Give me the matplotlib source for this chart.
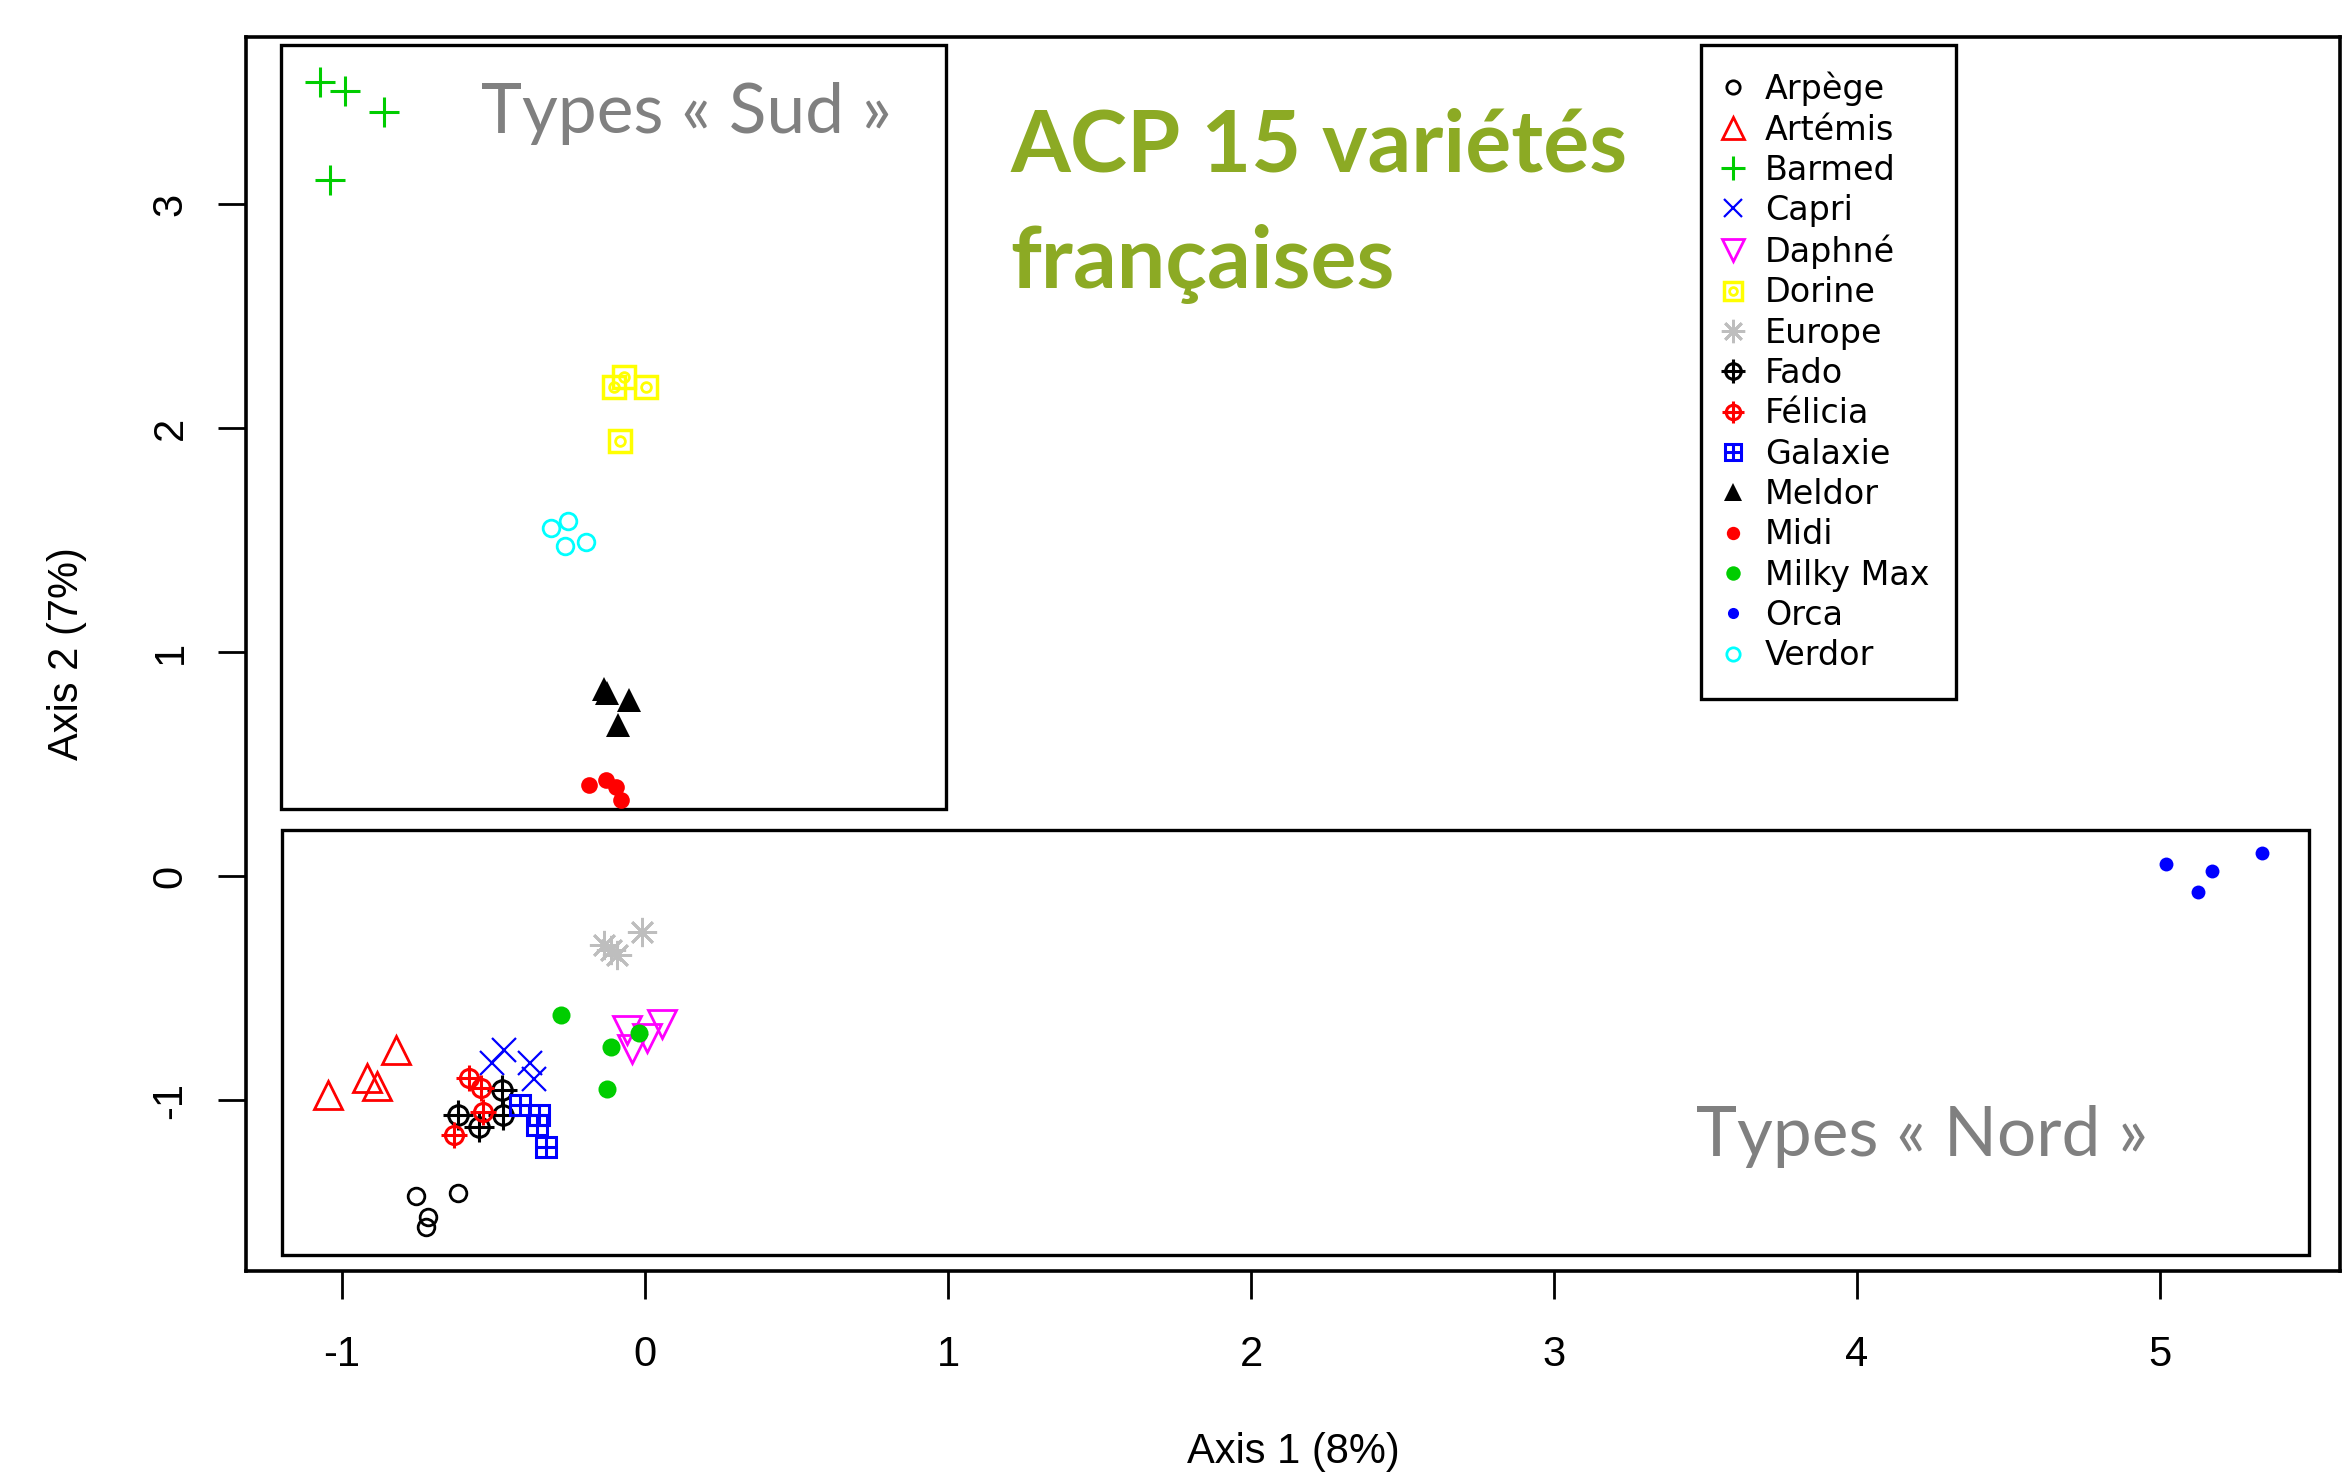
import matplotlib
matplotlib.use("Agg")
import matplotlib.pyplot as plt
from matplotlib.patches import Rectangle

# ============================================================
# DONNÉES — coordonnées ACP
# ============================================================
VARIETIES = ["Arpège", "Artémis", "Barmed", "Capri", "Daphné", "Dorine",
             "Europe", "Fado", "Félicia", "Galaxie", "Meldor", "Midi",
             "Milky Max", "Orca", "Verdor"]

ARPEGE_X  = [-0.756, -0.617, -0.716, -0.722]
ARPEGE_Y  = [-1.429, -1.415, -1.522, -1.567]
ARTEMIS_X = [-0.822, -1.046, -0.917, -0.884]
ARTEMIS_Y = [-0.777, -0.978, -0.902, -0.938]
BARMED_X  = [-1.072, -0.990, -0.862, -1.039]
BARMED_Y  = [3.545, 3.504, 3.411, 3.107]
CAPRI_X   = [-0.465, -0.504, -0.379, -0.366]
CAPRI_Y   = [-0.777, -0.835, -0.835, -0.906]
DAPHNE_X  = [-0.058, -0.042, 0.057, 0.008]
DAPHNE_Y  = [-0.688, -0.772, -0.661, -0.723]
DORINE_X  = [-0.101, -0.068, 0.004, -0.082]
DORINE_Y  = [2.183, 2.228, 2.183, 1.942]
EUROPE_X  = [-0.134, -0.111, -0.091, -0.009]
EUROPE_Y  = [-0.308, -0.330, -0.353, -0.250]
FADO_X    = [-0.617, -0.547, -0.471, -0.468]
FADO_Y    = [-1.067, -1.121, -0.955, -1.067]
FELICIA_X = [-0.580, -0.541, -0.534, -0.630]
FELICIA_Y = [-0.902, -0.946, -1.054, -1.156]
GALAXIE_X = [-0.412, -0.349, -0.356, -0.326]
GALAXIE_Y = [-1.022, -1.067, -1.112, -1.210]
MELDOR_X  = [-0.135, -0.125, -0.052, -0.089]
MELDOR_Y  = [0.835, 0.817, 0.786, 0.674]
MIDI_X    = [-0.184, -0.128, -0.095, -0.078]
MIDI_Y    = [0.406, 0.429, 0.397, 0.339]
MILKY_X   = [-0.276, -0.111, -0.019, -0.124]
MILKY_Y   = [-0.621, -0.763, -0.701, -0.951]
ORCA_X    = [5.019, 5.171, 5.125, 5.336]
ORCA_Y    = [0.054, 0.022, -0.071, 0.103]
VERDOR_X  = [-0.309, -0.253, -0.263, -0.194]
VERDOR_Y  = [1.554, 1.585, 1.473, 1.491]

X_TICKS = [-1, 0, 1, 2, 3, 4, 5]
Y_TICKS = [-1, 0, 1, 2, 3]

# ============================================================
# STYLES (pch façon R)
# ============================================================
GREEN = "#00CD00"
STYLES = {
    "Arpège":    [dict(marker="o", ms=12, mfc="none", mec="black", mew=2)],
    "Artémis":   [dict(marker="^", ms=20, mfc="none", mec="red", mew=2)],
    "Barmed":    [dict(marker="+", ms=21, mec=GREEN, mew=2.2)],
    "Capri":     [dict(marker="x", ms=17, mec="blue", mew=1.6)],
    "Daphné":    [dict(marker="v", ms=20, mfc="none", mec="magenta", mew=2)],
    "Dorine":    [dict(marker="s", ms=16, mfc="none", mec="yellow", mew=2.5),
                  dict(marker="o", ms=7, mfc="none", mec="yellow", mew=2)],
    "Europe":    [dict(marker=(8, 2, 0), ms=21, mec="#BEBEBE", mew=2)],
    "Fado":      [dict(marker="o", ms=14, mfc="none", mec="black", mew=2.2),
                  dict(marker="+", ms=21, mec="black", mew=2.2)],
    "Félicia":   [dict(marker="o", ms=13, mfc="none", mec="red", mew=2.2),
                  dict(marker="+", ms=19, mec="red", mew=2.2)],
    "Galaxie":   [dict(marker="s", ms=15, mfc="none", mec="blue", mew=2.2),
                  dict(marker="+", ms=15, mec="blue", mew=2.2)],
    "Meldor":    [dict(marker="^", ms=17, mfc="black", mec="black", mew=0)],
    "Midi":      [dict(marker="o", ms=12, mfc="red", mec="red", mew=0)],
    "Milky Max": [dict(marker="o", ms=13, mfc=GREEN, mec=GREEN, mew=0)],
    "Orca":      [dict(marker="o", ms=10, mfc="blue", mec="blue", mew=0)],
    "Verdor":    [dict(marker="o", ms=12, mfc="none", mec="cyan", mew=2)],
}

POINTS = [(ARPEGE_X, ARPEGE_Y), (ARTEMIS_X, ARTEMIS_Y), (BARMED_X, BARMED_Y),
          (CAPRI_X, CAPRI_Y), (DAPHNE_X, DAPHNE_Y), (DORINE_X, DORINE_Y),
          (EUROPE_X, EUROPE_Y), (FADO_X, FADO_Y), (FELICIA_X, FELICIA_Y),
          (GALAXIE_X, GALAXIE_Y), (MELDOR_X, MELDOR_Y), (MIDI_X, MIDI_Y),
          (MILKY_X, MILKY_Y), (ORCA_X, ORCA_Y), (VERDOR_X, VERDOR_Y)]

W, H = 2347, 1481
plt.rcParams["font.family"] = ["Liberation Sans", "DejaVu Sans"]
plt.rcParams["axes.unicode_minus"] = False

fig = plt.figure(figsize=(W / 100, H / 100), dpi=100)
ax = fig.add_axes([246 / W, 1 - 1271 / H, (2340 - 246) / W, (1271 - 37) / H])

handles = []
for name, (xs, ys) in zip(VARIETIES, POINTS):
    layers = []
    for st in STYLES[name]:
        line, = ax.plot(xs, ys, ls="none", **st)
        layers.append(line)
    handles.append(tuple(layers))

ax.set_xlim(-1.317, 5.594)
ax.set_ylim(-1.763, 3.746)
ax.set_xticks(X_TICKS)
ax.set_yticks(Y_TICKS)
for s in ax.spines.values():
    s.set_linewidth(2.6)
ax.tick_params(direction="out", length=20, width=2, labelsize=30)
ax.tick_params(axis="x", pad=26)
ax.tick_params(axis="y", pad=20, labelrotation=90)
for lab in ax.get_yticklabels():
    lab.set_va("center")

ax.set_xlabel("Axis 1 (8%)", fontsize=30, va="center")
ax.xaxis.set_label_coords(0.5, (1271 - 1452) / (1271 - 37))
ax.set_ylabel("Axis 2 (7%)", fontsize=30, va="center")
ax.yaxis.set_label_coords((67 - 246) / (2340 - 246), 0.5)

# cadres "Sud" / "Nord"
ax.add_patch(Rectangle((-1.200, 0.299), 0.992 + 1.200, 3.710 - 0.299,
                       fill=False, lw=2.4, ec="black", zorder=1))
ax.add_patch(Rectangle((-1.198, -1.692), 5.492 + 1.198, 0.205 + 1.692,
                       fill=False, lw=2.4, ec="black", zorder=1))

leg = ax.legend(handles, VARIETIES, loc="upper left",
                bbox_to_anchor=(1701 / W, 1 - 45 / H),
                bbox_transform=fig.transFigure, borderaxespad=0,
                prop={"family": "DejaVu Sans", "size": 24},
                markerscale=0.8, handlelength=0.32, handletextpad=0.80,
                borderpad=0.80, labelspacing=0.22, fancybox=False,
                framealpha=1, edgecolor="black")
leg.get_frame().set_linewidth(2.4)

# textes
fig.text(1010 / W, 1 - 172 / H, "ACP 15 variétés", family="Lato",
         weight="bold", size=62, color="#8CAA24", va="baseline")
fig.text(1010 / W, 1 - 288 / H, "françaises", family="Lato",
         weight="bold", size=62, color="#8CAA24", va="baseline")
fig.text(481 / W, 1 - 133 / H, "Types « Sud »", family="Lato",
         size=50, color="#808080", va="baseline")
fig.text(1696 / W, 1 - 1156 / H, "Types « Nord »", family="Lato",
         size=50, color="#808080", va="baseline")

fig.savefig("out.png", dpi=100)
